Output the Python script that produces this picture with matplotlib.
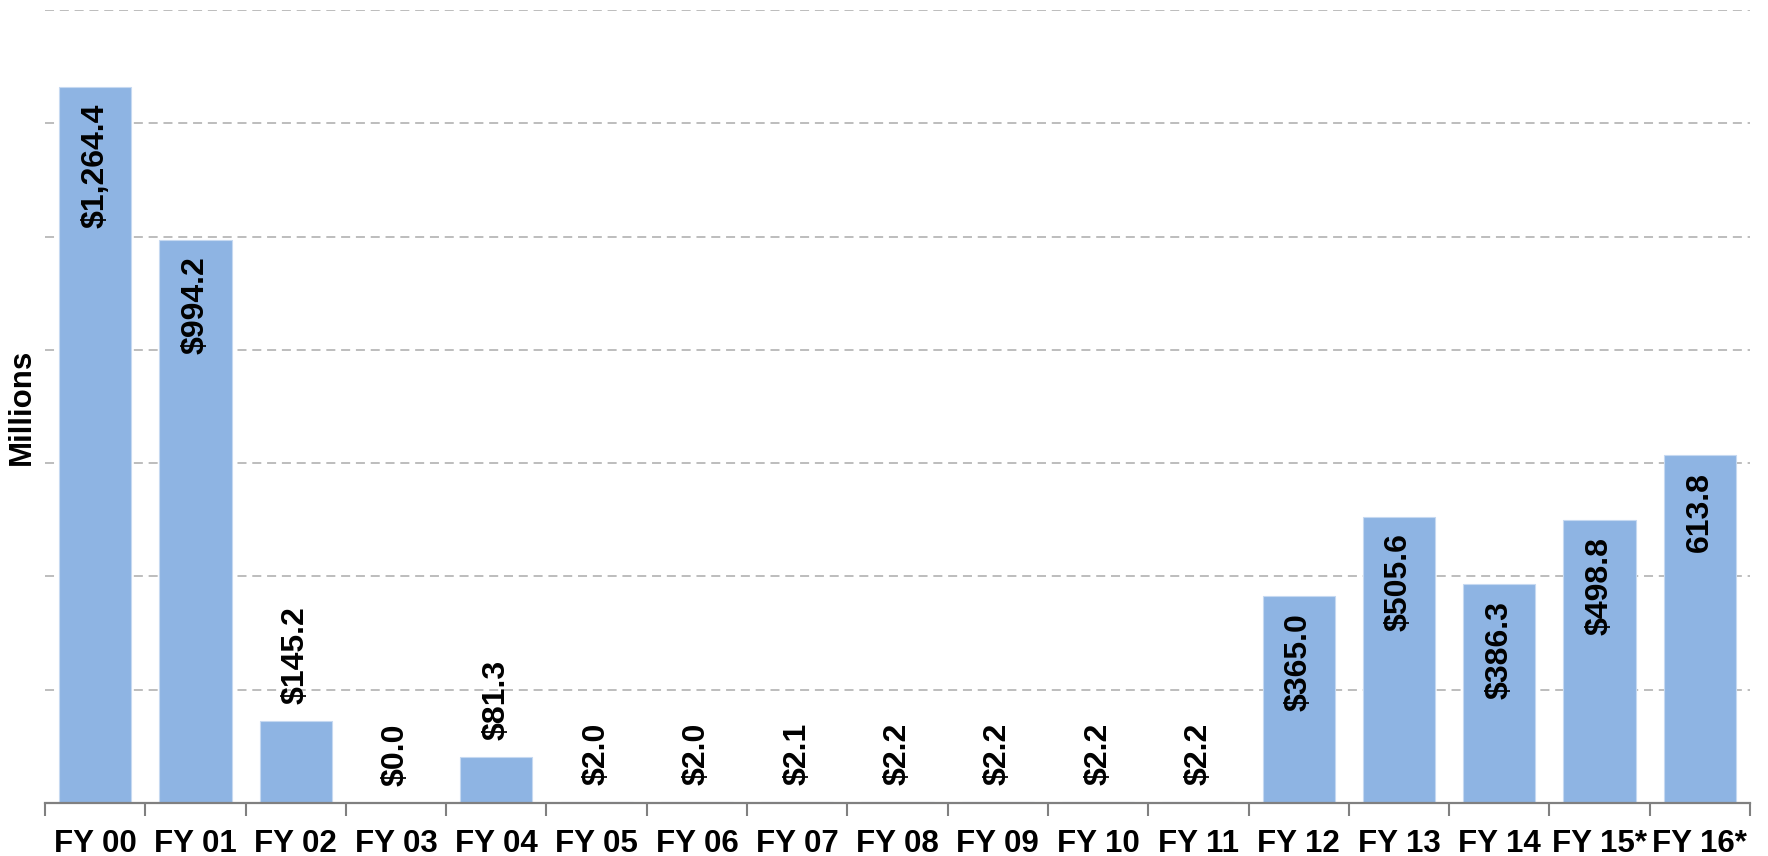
import matplotlib
matplotlib.use("Agg")
import matplotlib.pyplot as plt
import numpy as np

categories = ["FY 00", "FY 01", "FY 02", "FY 03", "FY 04", "FY 05", "FY 06", "FY 07",
              "FY 08", "FY 09", "FY 10", "FY 11", "FY 12", "FY 13", "FY 14", "FY 15*", "FY 16*"]
values = [1264.4, 994.2, 145.2, 0.0, 81.3, 2.0, 2.0, 2.1, 2.2, 2.2, 2.2, 2.2,
          365.0, 505.6, 386.3, 498.8, 613.8]
labels = ["$1,264.4", "$994.2", "$145.2", "$0.0", "$81.3", "$2.0", "$2.0", "$2.1",
          "$2.2", "$2.2", "$2.2", "$2.2", "$365.0", "$505.6", "$386.3", "$498.8", "613.8"]
inside_threshold = 300

plt.rcParams['font.family'] = ['Liberation Sans', 'DejaVu Sans']

fig = plt.figure(figsize=(17.68, 8.56), dpi=100)
ax = fig.add_axes([45/1768, 53/856, (1750-45)/1768, (803-10)/856])

x = np.arange(len(categories))
ax.bar(x, values, width=0.72, color='#8EB4E3', edgecolor='#C6D9F1', linewidth=0.8, zorder=2)

ax.set_xlim(-0.5, len(categories) - 0.5)
ax.set_ylim(0, 1400)
ax.set_yticks(np.arange(200, 1401, 200))
ax.yaxis.grid(True, color='#B8B8B8', linestyle=(0, (5, 3.2)), linewidth=1.3, zorder=0)
ax.set_axisbelow(True)
ax.tick_params(axis='y', left=False, labelleft=False)

for s in ['left', 'right', 'top']:
    ax.spines[s].set_visible(False)
ax.spines['bottom'].set_color('#808080')
ax.spines['bottom'].set_linewidth(1.6)

ax.set_xticks(x)
ax.set_xticklabels(categories, fontsize=22.5, fontweight='bold')
ax.set_xticks(np.arange(-0.5, len(categories), 1.0), minor=True)
ax.tick_params(axis='x', which='major', length=0, pad=19)
ax.tick_params(axis='x', which='minor', length=9, width=1.5, color='#808080')

ax.set_ylabel("Millions", fontsize=22.5, fontweight='bold', labelpad=6)

for xi, v, lab in zip(x, values, labels):
    if v > inside_threshold:
        ax.annotate(lab, (xi, v), xytext=(0, -12), textcoords='offset points',
                    rotation=90, ha='center', va='top', fontsize=23, fontweight='bold', zorder=3)
    else:
        ax.annotate(lab, (xi, v), xytext=(0, 12), textcoords='offset points',
                    rotation=90, ha='center', va='bottom', fontsize=23, fontweight='bold', zorder=3)

fig.savefig("out.png", dpi=100)
